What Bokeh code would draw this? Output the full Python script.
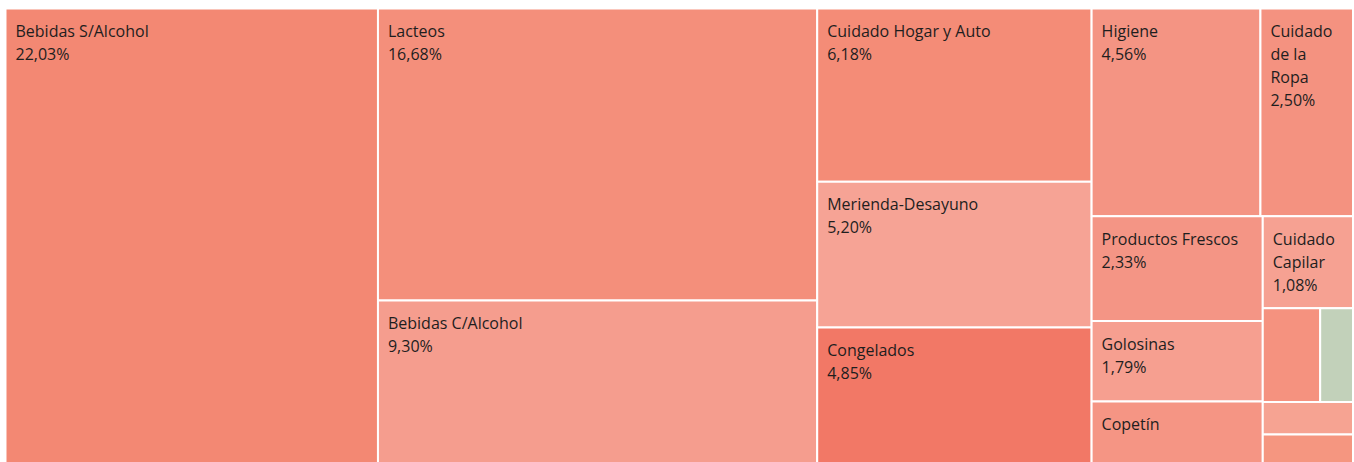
from bokeh.plotting import figure
from bokeh.models import ColumnDataSource, Range1d
from bokeh.core.properties import value
from bokeh.embed import file_html
from bokeh.resources import INLINE

# ---------------- data ----------------
categories = ["Bebidas S/Alcohol", "Lacteos", "Bebidas C/Alcohol", "Cuidado Hogar y Auto",
              "Merienda-Desayuno", "Congelados", "Higiene", "Cuidado de la Ropa",
              "Productos Frescos", "Golosinas", "Copetín", "Cuidado Capilar",
              "", "", "", ""]
shares = [22.03, 16.68, 9.30, 6.18, 5.20, 4.85, 4.56, 2.50,
          2.33, 1.79, 1.38, 1.08, 0.70, 0.40, 0.38, 0.34]
colors = ["#F38873", "#F48F7B", "#F59D8E", "#F48C77", "#F6A395", "#F27866", "#F49483", "#F49280",
          "#F49585", "#F69F90", "#F59584", "#F6A192", "#F5927F", "#C2D1BA", "#F6A392", "#F59680"]

# ---------------- layout (d3-style squarified, golden ratio) ----------------
RATIO = (1 + 5 ** 0.5) / 2
X0, Y0, X1, Y1 = 5.0, 8.0, 1352.5, 463.0


def squarify(vals, x0, y0, x1, y1, ratio=RATIO):
    n = len(vals)
    rects = [None] * n
    total = float(sum(vals))
    i0 = i1 = 0
    while i0 < n:
        dx, dy = x1 - x0, y1 - y0
        sum_v = vals[i1]
        i1 += 1
        min_v = max_v = sum_v
        alpha = max(dy / dx, dx / dy) / (total * ratio)
        beta = sum_v * sum_v * alpha
        min_ratio = max(max_v / beta, beta / min_v)
        while i1 < n:
            v = vals[i1]
            s = sum_v + v
            mn, mx = min(min_v, v), max(max_v, v)
            beta = s * s * alpha
            new_ratio = max(mx / beta, beta / mn)
            if new_ratio > min_ratio:
                break
            sum_v, min_v, max_v, min_ratio = s, mn, mx, new_ratio
            i1 += 1
        row = range(i0, i1)
        if dx < dy:
            yb = y0 + dy * sum_v / total if i1 < n else y1
            cx = x0
            for i in row:
                w = dx * vals[i] / sum_v
                rects[i] = (cx, y0, cx + w, yb)
                cx += w
            y0 = yb
        else:
            xb = x0 + dx * sum_v / total if i1 < n else x1
            cy = y0
            for i in row:
                h = dy * vals[i] / sum_v
                rects[i] = (x0, cy, xb, cy + h)
                cy += h
            x0 = xb
        total -= sum_v
        i0 = i1
    return rects


rects = squarify(shares, X0, Y0, X1, Y1)

left = [r[0] for r in rects]
top = [r[1] for r in rects]
right = [r[2] for r in rects]
bottom = [r[3] for r in rects]

src = ColumnDataSource(dict(left=left, right=right, top=top, bottom=bottom,
                            color=colors, name=categories, share=shares))

# ---------------- labels ----------------
FONT_PX = 16
CHAR_W = 8.4
PAD_X = 10
BASE_OFF = 22.5
LINE_H = 23


def wrap(text, avail):
    words = text.split()
    lines, cur = [], ""
    for w in words:
        cand = (cur + " " + w).strip()
        if len(cand) * CHAR_W <= avail or not cur:
            cur = cand
        else:
            lines.append(cur)
            cur = w
    if cur:
        lines.append(cur)
    return lines


tx, ty, tt = [], [], []
for name, v, (l, t, r, b) in zip(categories, shares, rects):
    if not name:
        continue
    avail = (r - l) - 2 * PAD_X
    name_lines = wrap(name, avail)
    if any(len(s) * CHAR_W > avail for s in name_lines):
        continue
    lines = name_lines + [f"{v:.2f}".replace(".", ",") + "%"]
    shown = []
    for k, s in enumerate(lines):
        box_bottom = t + 10 + LINE_H * (k + 1)
        if box_bottom <= b - 8:
            shown.append(s)
        else:
            break
    if len(shown) < len(name_lines):
        continue
    for k, s in enumerate(shown):
        tx.append(l + PAD_X)
        ty.append(t + BASE_OFF + LINE_H * k)
        tt.append(s)

lab = ColumnDataSource(dict(x=tx, y=ty, text=tt))

# ---------------- figure ----------------
p = figure(width=1354, height=462, output_backend="svg", toolbar_location=None,
           x_range=Range1d(0, 1354), y_range=Range1d(462, 0),
           min_border=0, min_border_left=0, min_border_right=0,
           min_border_top=0, min_border_bottom=0)
p.axis.visible = False
p.grid.visible = False
p.outline_line_color = None
p.background_fill_color = "white"
p.border_fill_color = "white"

p.quad(left="left", right="right", top="top", bottom="bottom", source=src,
       fill_color="color", line_color="white", line_width=2)
p.text(x="x", y="y", text="text", source=lab, text_font=value("Open Sans"),
       text_font_size=f"{FONT_PX}px", text_color="#1e1e1e",
       text_baseline="alphabetic", text_align="left")

open("out.html", "w").write(file_html(p, INLINE))
